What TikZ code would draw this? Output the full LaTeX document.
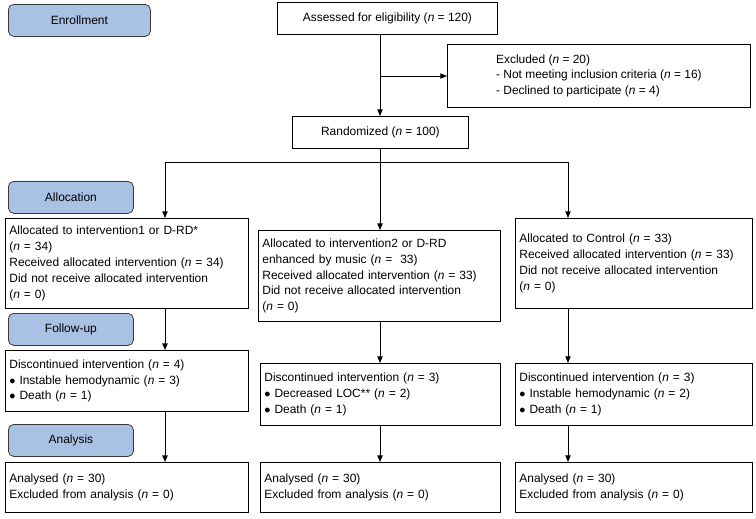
\documentclass[tikz,border=0pt]{standalone}
\usepackage{fontspec}
\setmainfont{Liberation Sans}
\usetikzlibrary{arrows.meta,positioning,calc}
\definecolor{stagefill}{HTML}{A9C1E3}
\definecolor{stagedraw}{HTML}{3A3A3A}
\newcommand{\nn}{\textit{n}}

\begin{document}
\begin{tikzpicture}[
    x=0.02646cm,
    y=-0.02646cm,
    box/.style={
        draw=black,
        line width=0.6pt,
        anchor=north west,
        align=left,
        inner sep=3pt,
        font=\fontsize{9}{12}\selectfont
    },
    stage/.style={
        draw=stagedraw,
        fill=stagefill,
        rounded corners=4pt,
        line width=0.6pt,
        anchor=north west,
        minimum height=32*0.02646cm,
        font=\fontsize{9}{10}\selectfont
    },
    arrow/.style={
        -{Triangle[length=5pt,width=4pt]},
        line width=0.6pt
    }
]
\useasboundingbox (0,0) rectangle (756,518);

% Stage labels
\node[stage, minimum width=142*0.02646cm] (enrol) at (8,4) {Enrollment};
\node[stage, minimum width=125*0.02646cm] (alloc) at (8,181) {Allocation};
\node[stage, minimum width=125*0.02646cm] (follow) at (8,313) {Follow-up};
\node[stage, minimum width=125*0.02646cm] (analysis) at (8,424) {Analysis};

% Enrollment
\node[box, minimum width=220*0.02646cm, minimum height=32*0.02646cm, align=center] (assess) at (277,2) {Assessed for eligibility (\nn{} = 120)};
\node[box, minimum width=303*0.02646cm, minimum height=63*0.02646cm] (excl) at (447,44) {Excluded (\nn{} = 20)\\- Not meeting inclusion criteria (\nn{} = 16)\\- Declined to participate (\nn{} = 4)};
\node[box, minimum width=176*0.02646cm, minimum height=32*0.02646cm, align=center] (rand) at (292,116) {Randomized (\nn{} = 100)};

% Allocation
\node[box, text width=235*0.02646cm, minimum height=90*0.02646cm] (alloca) at (5,218) {Allocated to intervention1 or D-RD*\\(\nn{} = 34)\\Received allocated intervention (\nn{} = 34)\\Did not receive allocated intervention\\(\nn{} = 0)};
\node[box, text width=234*0.02646cm, minimum height=91*0.02646cm] (allocb) at (258,230) {Allocated to intervention2 or D-RD\\enhanced by music (\nn{} =~ 33)\\Received allocated intervention (\nn{} = 33)\\Did not receive allocated intervention\\(\nn{} = 0)};
\node[box, text width=229*0.02646cm, minimum height=90*0.02646cm] (allocc) at (515,218) {Allocated to Control (\nn{} = 33)\\Received allocated intervention (\nn{} = 33)\\Did not receive allocated intervention\\(\nn{} = 0)};

% Follow-up
\node[box, text width=235*0.02646cm, minimum height=61*0.02646cm] (disca) at (5,350) {Discontinued intervention (\nn{} = 4)\\$\bullet$ Instable hemodynamic (\nn{} = 3)\\$\bullet$ Death (\nn{} = 1)};
\node[box, text width=232*0.02646cm, minimum height=62*0.02646cm] (discb) at (260,363) {Discontinued intervention (\nn{} = 3)\\$\bullet$ Decreased LOC** (\nn{} = 2)\\$\bullet$ Death (\nn{} = 1)};
\node[box, text width=229*0.02646cm, minimum height=62*0.02646cm] (discc) at (515,363) {Discontinued intervention (\nn{} = 3)\\$\bullet$ Instable hemodynamic (\nn{} = 2)\\$\bullet$ Death (\nn{} = 1)};

% Analysis
\node[box, text width=235*0.02646cm, minimum height=50*0.02646cm] (anaa) at (5,462) {Analysed (\nn{} = 30)\\Excluded from analysis (\nn{} = 0)};
\node[box, text width=232*0.02646cm, minimum height=50*0.02646cm] (anab) at (260,462) {Analysed (\nn{} = 30)\\Excluded from analysis (\nn{} = 0)};
\node[box, text width=229*0.02646cm, minimum height=50*0.02646cm] (anac) at (515,462) {Analysed (\nn{} = 30)\\Excluded from analysis (\nn{} = 0)};

% Connections
\coordinate (split) at (380,76);
\coordinate (branch) at (380,162);
\coordinate (left) at (165,162);
\coordinate (right) at (568,162);
\draw[arrow] (assess.south -| branch) -- (rand.north -| branch);
\draw[arrow] (split) -- (excl.west |- split);
\draw[line width=0.6pt] (rand.south -| branch) -- (branch);
\draw[line width=0.6pt] (left) -- (right);
\draw[arrow] (left) -- (alloca.north -| left);
\draw[arrow] (branch) -- (allocb.north -| branch);
\draw[arrow] (right) -- (allocc.north -| right);
\draw[arrow] (alloca.south -| left) -- (disca.north -| left);
\draw[arrow] (allocb.south -| branch) -- (discb.north -| branch);
\draw[arrow] (allocc.south -| right) -- (discc.north -| right);
\draw[arrow] (disca.south -| left) -- (anaa.north -| left);
\draw[arrow] (discb.south -| branch) -- (anab.north -| branch);
\draw[arrow] (discc.south -| right) -- (anac.north -| right);
\end{tikzpicture}
\end{document}
